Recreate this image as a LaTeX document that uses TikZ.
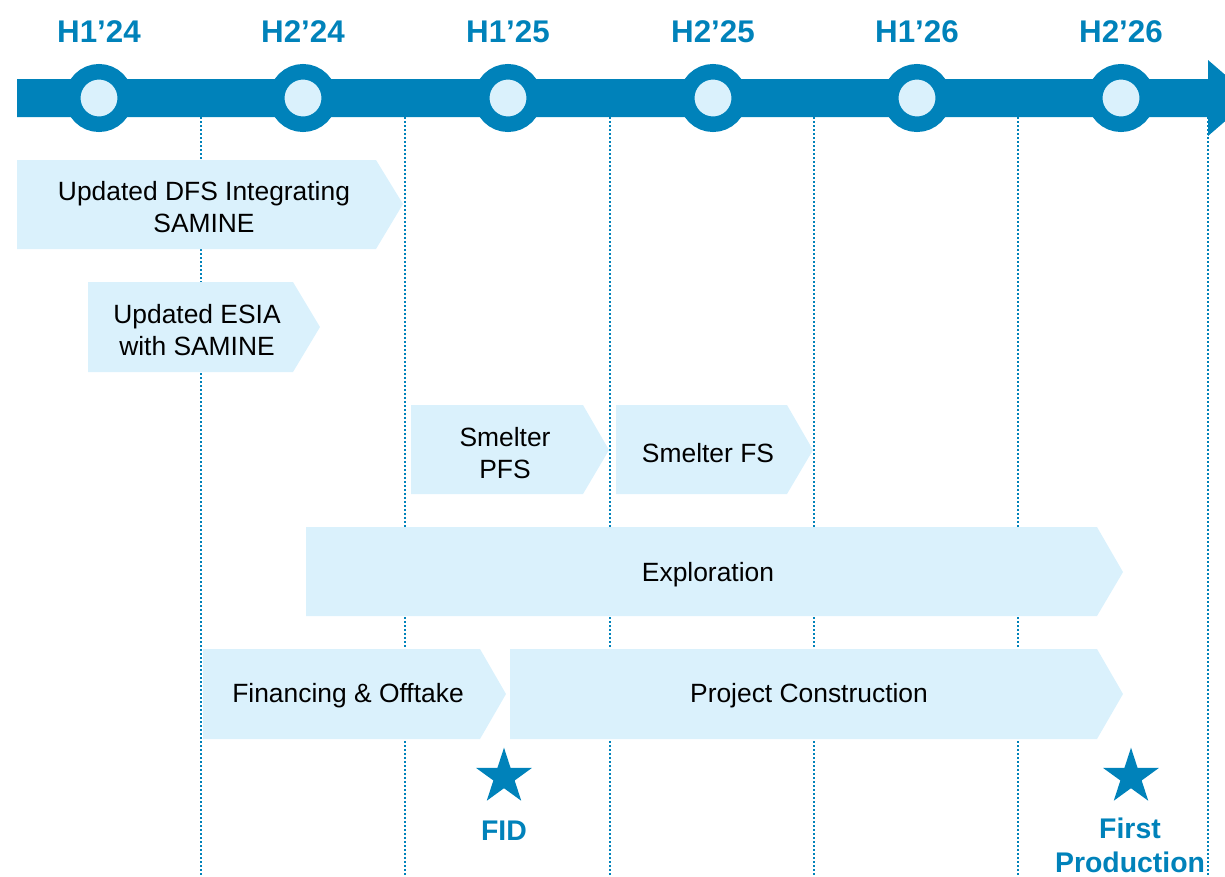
\documentclass[tikz,border=0pt]{standalone}
\usepackage{fontspec}
\setmainfont{Liberation Sans}
\usetikzlibrary{shapes.geometric}
\definecolor{tlblue}{RGB}{0,130,186}
\definecolor{tllight}{RGB}{218,241,252}
\begin{document}
\begin{tikzpicture}[x=0.75pt,y=-0.75pt,
 hdr/.style={text=tlblue,font=\fontsize{23.5}{28}\selectfont\bfseries,anchor=base,inner sep=0pt},
 bartext/.style={font=\fontsize{19.8}{23.5}\selectfont,align=center,text=black,inner sep=0pt},
 phase/.style={fill=tllight},
 gridline/.style={tlblue,line width=1.9pt,dash pattern=on 1.6pt off 1.4pt},
 milestone/.style={circle,fill=tllight,draw=tlblue,line width=11.6pt,minimum size=39.4pt,inner sep=0pt},
 ms/.style={star,star points=5,star point ratio=2.618,fill=tlblue,minimum size=44pt,inner sep=0pt},
 mstext/.style={text=tlblue,font=\fontsize{21.3}{25}\selectfont\bfseries,align=center,inner sep=0pt}]
\useasboundingbox (0,0) rectangle (1225,876);
\begin{scope}
\clip (0,0) rectangle (1225,876);
% grid lines
\foreach \x [count=\i] in {201,405,610,814,1018,1208} {
  \coordinate (gt\i) at (\x,117);
  \coordinate (gb\i) at (\x,876);
  \draw[gridline] (gt\i) -- (gb\i);
}
% timeline arrow
\fill[tlblue] (17,79) -- (1208,79) -- (1208,60) -- (1252,98) -- (1208,136) -- (1208,117) -- (17,117) -- cycle;
% milestones and headers
\foreach \x/\lab [count=\i] in {99/H1’24,303/H2’24,508/H1’25,713/H2’25,917/H1’26,1121/H2’26} {
  \node[milestone] (m\i) at (\x,98) {};
  \node[hdr] (h\i) at (\x,42) {\lab};
}
% phase bars
\fill[phase] (17,160) -- (376,160) -- (403,204) -- (376,249) -- (17,249) -- cycle;
\node[bartext] (dfs) at (204,207) {Updated DFS Integrating\\SAMINE};
\fill[phase] (88,282) -- (293,282) -- (320,327) -- (293,372) -- (88,372) -- cycle;
\node[bartext] (esia) at (197,330) {Updated ESIA\\with SAMINE};
\fill[phase] (411,405) -- (583,405) -- (609,450) -- (583,494) -- (411,494) -- cycle;
\node[bartext] (pfs) at (505,453) {Smelter\\PFS};
\fill[phase] (616,405) -- (787,405) -- (813,450) -- (787,494) -- (616,494) -- cycle;
\node[bartext] (fs) at (708,453) {Smelter FS};
\fill[phase] (306,527) -- (1097,527) -- (1123,572) -- (1097,616) -- (306,616) -- cycle;
\node[bartext] (expl) at (708,575) {Exploration};
\fill[phase] (203,649) -- (480,649) -- (506,694) -- (480,739) -- (203,739) -- cycle;
\node[bartext] (fin) at (348,696) {Financing \& Offtake};
\fill[phase] (510,649) -- (1097,649) -- (1123,694) -- (1097,739) -- (510,739) -- cycle;
\node[bartext] (pc) at (809,696) {Project Construction};
% milestone stars
\node[ms] (s1) at (504,777) {};
\node[mstext,anchor=base] (fid) at (504,840) {FID};
\node[ms] (s2) at (1131,777) {};
\node[mstext,anchor=north] (fp) at (1130,818) {First\\Production};
\end{scope}
\end{tikzpicture}
\end{document}
